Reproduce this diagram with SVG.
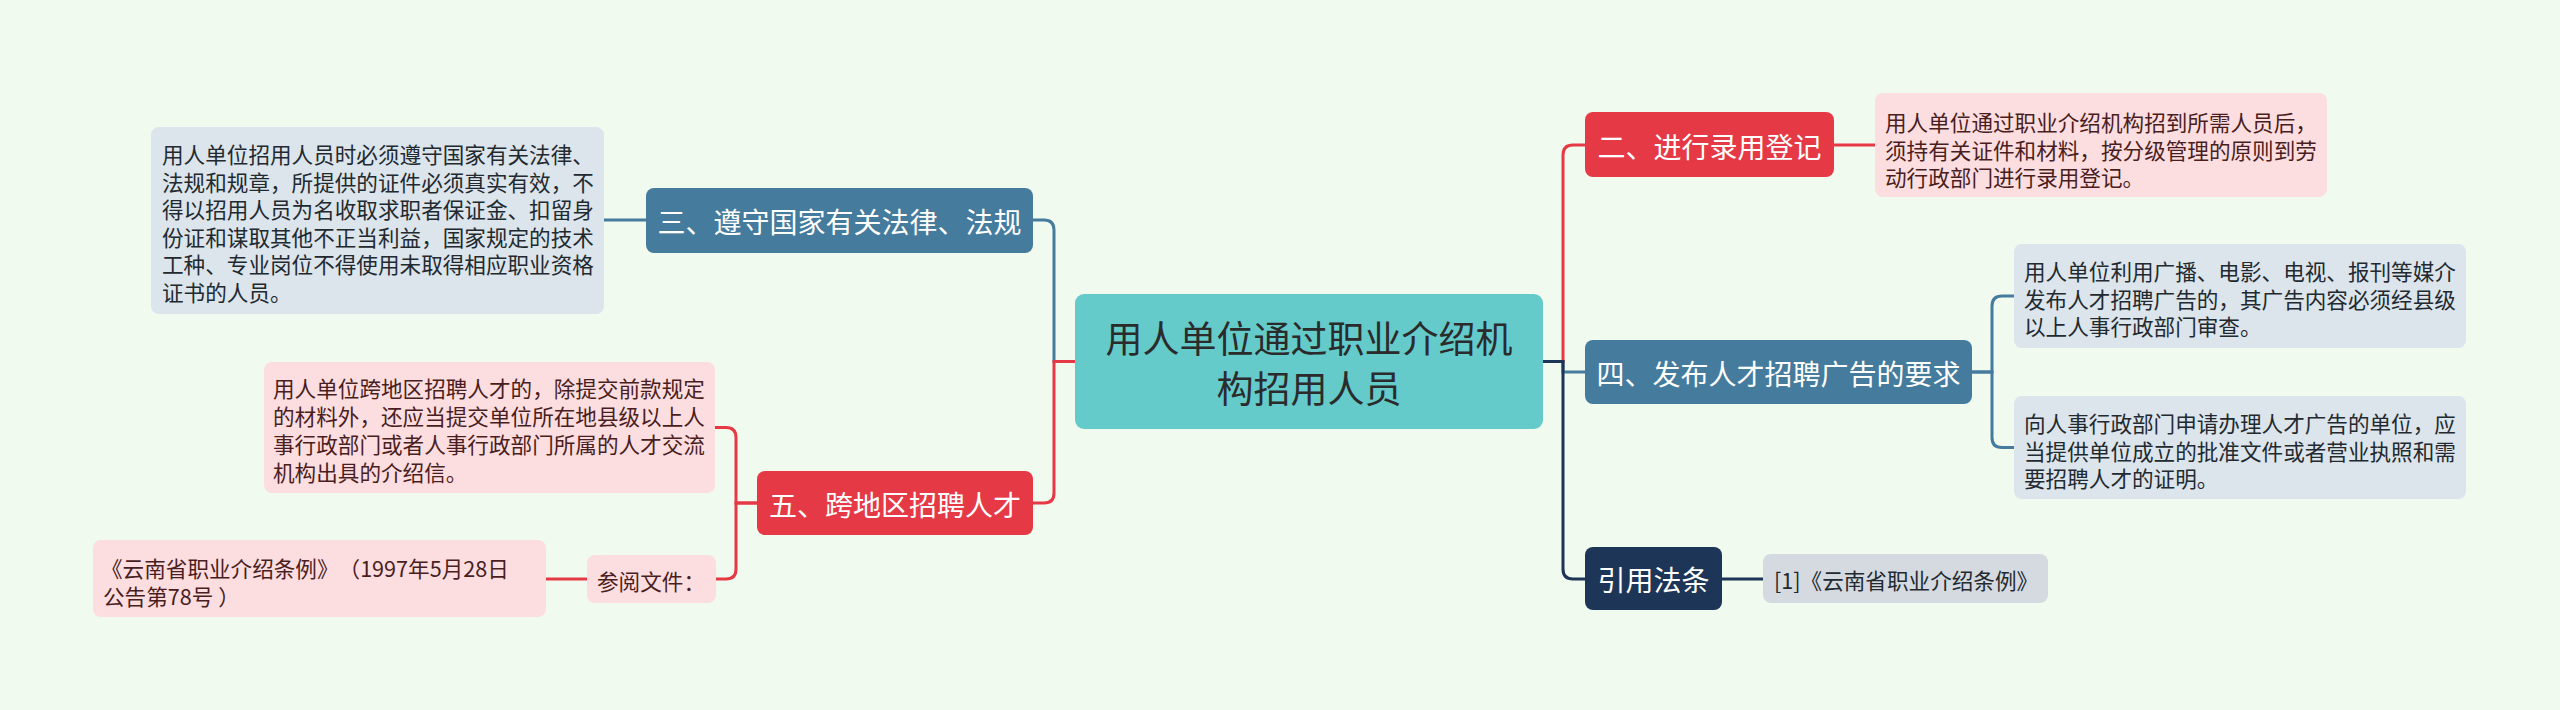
<svg xmlns="http://www.w3.org/2000/svg" width="2560" height="710" viewBox="0 0 2560 710">
<style>
text{font-family:"Noto Sans CJK SC","Noto Sans",sans-serif;dominant-baseline:central}
.ctr{font-size:37px;fill:#2b2b2b;text-anchor:middle}
.nt{font-size:28px;fill:#ffffff;text-anchor:middle}
.dt{font-size:21.6px}
.dp{fill:#4a1d20}
.db{fill:#222a30}
.sa{text-spacing-trim:space-all}
.red{fill:#e63946}
.blue{fill:#457b9d}
.navy{fill:#1d3557}
.pink{fill:#fcdde0}
.pale{fill:#dce4ec}
.gray{fill:#d5dae0}
.ln{fill:none;stroke-width:3}
.lr{stroke:#e63946}
.lb{stroke:#457b9d}
.ln2{stroke:#1d3557}
</style>
<rect width="2560" height="710" fill="#f1faee"/>
<g id="connectors">
<path class="ln lb" d="M1075,361.5 H1054 V230 Q1054,220 1044,220 H1033"/>
<path class="ln lr" d="M1075,361.5 H1054 V493 Q1054,503 1044,503 H1033"/>
<path class="ln lb" d="M1543,361.5 H1563 V372 H1585"/>
<path class="ln lr" d="M1543,361.5 H1563 V155 Q1563,145 1573,145 H1585"/>
<path class="ln ln2" d="M1543,361.5 H1563 V569 Q1563,579 1573,579 H1585"/>
<path class="ln lr" d="M1834,145 H1875"/>
<path class="ln lb" d="M1972,372 H1992 V306 Q1992,296 2002,296 H2014"/>
<path class="ln lb" d="M1972,372 H1992 V437.5 Q1992,447.5 2002,447.5 H2014"/>
<path class="ln ln2" d="M1722,579 H1763"/>
<path class="ln lb" d="M646,220 H604"/>
<path class="ln lr" d="M757,503 H736 V437.5 Q736,427.5 726,427.5 H715"/>
<path class="ln lr" d="M757,503 H736 V569 Q736,579 726,579 H716"/>
<path class="ln lr" d="M587,579 H546"/>
</g>
<g id="center">
<rect x="1075" y="294" width="468" height="135" rx="9" fill="#64caca"/>
<text class="ctr" x="1309" y="337">用人单位通过职业介绍机</text>
<text class="ctr" x="1309" y="387">构招用人员</text>
</g>
<g id="n2">
<rect class="red" x="1585" y="112" width="249" height="65" rx="8"/>
<text class="nt" x="1709.5" y="146">二、进行录用登记</text>
</g>
<g id="n2d">
<rect class="pink" x="1875" y="93" width="452" height="104" rx="8"/>
<text class="dt dp" x="1885" y="121.5">用人单位通过职业介绍机构招到所需人员后，</text>
<text class="dt dp" x="1885" y="149">须持有关证件和材料，按分级管理的原则到劳</text>
<text class="dt dp" x="1885" y="176.5">动行政部门进行录用登记。</text>
</g>
<g id="n4">
<rect class="blue" x="1585" y="340" width="387" height="64" rx="8"/>
<text class="nt" x="1778.5" y="373">四、发布人才招聘广告的要求</text>
</g>
<g id="n4a">
<rect class="pale" x="2014" y="244" width="452" height="104" rx="8"/>
<text class="dt db" x="2024" y="270.5">用人单位利用广播、电影、电视、报刊等媒介</text>
<text class="dt db" x="2024" y="298">发布人才招聘广告的，其广告内容必须经县级</text>
<text class="dt db" x="2024" y="325.5">以上人事行政部门审查。</text>
</g>
<g id="n4b">
<rect class="pale" x="2014" y="396" width="452" height="103" rx="8"/>
<text class="dt db" x="2024" y="422.5">向人事行政部门申请办理人才广告的单位，应</text>
<text class="dt db" x="2024" y="450">当提供单位成立的批准文件或者营业执照和需</text>
<text class="dt db" x="2024" y="477.5">要招聘人才的证明。</text>
</g>
<g id="nref">
<rect class="navy" x="1585" y="547" width="137" height="63" rx="8"/>
<text class="nt" x="1653.5" y="579">引用法条</text>
</g>
<g id="nrefd">
<rect class="gray" x="1763" y="554" width="285" height="49" rx="8"/>
<text class="dt db" x="1774" y="579.5">[1]《云南省职业介绍条例》</text>
</g>
<g id="n3">
<rect class="blue" x="646" y="188" width="387" height="65" rx="8"/>
<text class="nt" x="839.5" y="221">三、遵守国家有关法律、法规</text>
</g>
<g id="n3d">
<rect class="pale" x="151" y="127" width="453" height="187" rx="8"/>
<text class="dt db" x="162" y="153.5">用人单位招用人员时必须遵守国家有关法律、</text>
<text class="dt db" x="162" y="181">法规和规章，所提供的证件必须真实有效，不</text>
<text class="dt db" x="162" y="208.5">得以招用人员为名收取求职者保证金、扣留身</text>
<text class="dt db" x="162" y="236">份证和谋取其他不正当利益，国家规定的技术</text>
<text class="dt db" x="162" y="263.5">工种、专业岗位不得使用未取得相应职业资格</text>
<text class="dt db" x="162" y="291">证书的人员。</text>
</g>
<g id="n5">
<rect class="red" x="757" y="471" width="276" height="64" rx="8"/>
<text class="nt" x="895" y="504">五、跨地区招聘人才</text>
</g>
<g id="n5a">
<rect class="pink" x="264" y="362" width="451" height="131" rx="8"/>
<text class="dt dp" x="273" y="387">用人单位跨地区招聘人才的，除提交前款规定</text>
<text class="dt dp" x="273" y="415">的材料外，还应当提交单位所在地县级以上人</text>
<text class="dt dp" x="273" y="443">事行政部门或者人事行政部门所属的人才交流</text>
<text class="dt dp" x="273" y="471">机构出具的介绍信。</text>
</g>
<g id="n5b">
<rect class="pink" x="587" y="555" width="129" height="48" rx="8"/>
<text class="dt dp" x="597" y="580">参阅文件：</text>
</g>
<g id="n5c">
<rect class="pink" x="93" y="540" width="453" height="77" rx="8"/>
<text class="dt dp sa" x="101" y="567">《云南省职业介绍条例》（1997年5月28日</text>
<text class="dt dp" x="103" y="595">公告第78号 ）</text>
</g>
</svg>
